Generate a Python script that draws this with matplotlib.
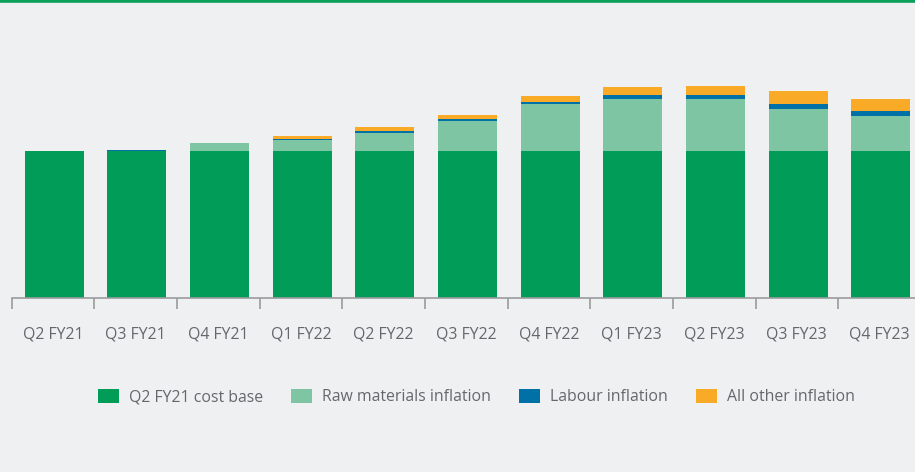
import matplotlib.pyplot as plt
import numpy as np
from matplotlib.lines import Line2D

plt.rcParams['font.family'] = ['Open Sans', 'DejaVu Sans']

quarters = ['Q2 FY21', 'Q3 FY21', 'Q4 FY21', 'Q1 FY22', 'Q2 FY22', 'Q3 FY22',
            'Q4 FY22', 'Q1 FY23', 'Q2 FY23', 'Q3 FY23', 'Q4 FY23']
# cost index, Q2 FY21 cost base = 100
cost_base = [100, 100, 100, 100, 100, 100, 100, 100, 100, 100, 100]
raw_materials = [0, 0, 5.4, 7.5, 12.2, 20.4, 32.0, 35.4, 35.4, 28.6, 23.8]
labour = [0, 0.7, 0, 0.7, 1.4, 1.4, 1.4, 2.7, 2.7, 3.4, 3.4]
other = [0, 0, 0, 2.0, 2.7, 2.7, 4.1, 5.4, 6.1, 8.8, 8.2]

series = [
    ('Q2 FY21 cost base', cost_base, '#009c58'),
    ('Raw materials inflation', raw_materials, '#7dc5a3'),
    ('Labour inflation', labour, '#0071a7'),
    ('All other inflation', other, '#f9ab27'),
]

bg = '#eff0f2'
txt = '#66676a'
W, H = 915, 472
fig = plt.figure(figsize=(W / 100, H / 100), dpi=100, facecolor=bg)

# axis line sits at y=298px; ticks every ~82.7px starting at x~12
x0, step, y_axis = 11.7, 82.65, 298
n = len(quarters)
ax = fig.add_axes([x0 / W, 1 - y_axis / H, n * step / W, (y_axis - 6) / H])
ax.set_facecolor(bg)

x = np.arange(n)
bottom = np.zeros(n)
for name, vals, col in series:
    vals = np.array(vals, dtype=float)
    ax.bar(x + 0.015, vals, 0.715, bottom=bottom, color=col, label=name, linewidth=0)
    bottom += vals

ax.set_xlim(-0.5, n - 0.5)
ax.set_ylim(0, (y_axis - 6) / 147 * 100)

for s in ['top', 'right', 'left']:
    ax.spines[s].set_visible(False)
ax.spines['bottom'].set_color('#9a9b9d')
ax.spines['bottom'].set_linewidth(1.2)
ax.set_yticks([])
ax.set_xticks(np.arange(n + 1) - 0.5, minor=False)
ax.set_xticklabels([])
ax.tick_params(axis='x', which='major', length=8, width=1.2, color='#9a9b9d', direction='out')
ax.set_xticks(x, minor=True)
ax.set_xticklabels(quarters, minor=True, fontsize=11.4, color=txt)
ax.tick_params(axis='x', which='minor', length=0, pad=20.5)

# thin green rule across the top of the panel
fig.add_artist(Line2D([0, 1], [1 - 1.2 / H, 1 - 1.2 / H], transform=fig.transFigure,
                      color='#0aa05a', linewidth=2.6))

fig.legend(loc='center', bbox_to_anchor=(476 / W, 1 - 397 / H), ncol=4, frameon=False,
           fontsize=11.4, labelcolor=txt, handlelength=1.33, handleheight=1.07,
           handletextpad=0.63, columnspacing=1.77)

fig.savefig('out.png', dpi=100, facecolor=bg)
